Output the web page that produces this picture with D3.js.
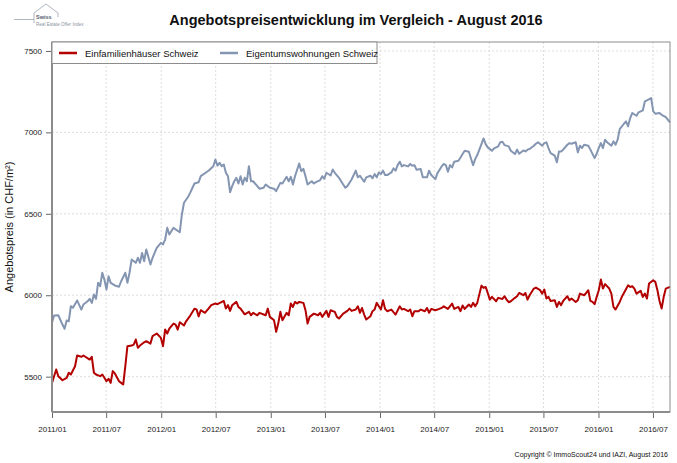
<!DOCTYPE html>
<html>
<head>
<meta charset="utf-8">
<title>Angebotspreisentwicklung</title>
<script src="https://cdn.jsdelivr.net/npm/d3@7/dist/d3.min.js"></script>
<style>
  body { margin: 0; background: #fff; }
  svg { display: block; font-family: "Liberation Sans", Arial, sans-serif; }
</style>
</head>
<body>
<div id="chart"></div>
<script>
// weeks since 2011-01-01, values in CHF/m2
var houseWeeks = [0,2,3,5,7,8,9,11,12,14,15,18,19,20,21,23,24,25,26,27,28,29,30,32,33,34,35,36,38,39,40,41,42,44,45,47,48,50,52,53,54,55,56,58,59,60,61,63,64,66,68,69,70,71,73,75,
  76,78,79,82,83,84,85,86,88,89,90,92,94,95,96,98,99,102,103,104,106,107,108,109,110,112,113,114,115,116,117,118,120,121,122,123,125,127,128,129,131,132,133,135,136,137,139,141,142,143,
  145,146,147,148,149,150,152,153,154,155,156,157,158,159,160,162,163,164,166,167,168,170,171,172,173,175,176,178,179,180,181,183,184,186,187,189,191,192,194,195,196,197,199,200,201,202,203,
  205,206,207,208,209,210,212,213,215,216,217,218,219,221,222,223,225,226,227,228,230,231,233,234,235,236,237,238,240,241,242,243,244,246,247,248,250,251,252,254,255,256,257,258,259,260,
  261,262,263,264,266,267,268,269,271,272,273,275,276,277,278,279,281,282,283,284,285,287,288,289,290,291,292,293,295];
var houseValues = [5461,5544,5503,5478,5493,5524,5513,5564,5630,5622,5630,5605,5622,5524,5513,5503,5513,5493,5472,5487,5462,5534,5520,5472,5462,5452,5564,5687,5691,5697,5728,5677,5691,5711,5718,5703,5749,5765,5738,5687,5789,5765,5795,5826,5820,5789,5834,5814,5840,5875,5917,5913,5870,5908,5892,5923,
  5939,5949,5945,5965,5918,5939,5904,5939,5959,5928,5918,5883,5898,5877,5892,5877,5892,5877,5918,5867,5846,5775,5826,5898,5846,5892,5877,5949,5928,5959,5949,5959,5953,5908,5826,5867,5887,5877,5892,5867,5904,5867,5908,5898,5867,5857,5887,5904,5918,5904,
  5912,5932,5892,5922,5881,5851,5871,5902,5912,5953,5932,5912,5969,5916,5902,5912,5896,5881,5932,5912,5916,5902,5912,5871,5902,5902,5912,5902,5922,5892,5916,5908,5912,5922,5932,5916,5949,5916,5928,5902,5937,5916,5943,5928,5953,5932,5953,
  6059,6045,6051,6014,5973,5990,5963,5984,5977,5994,5973,5957,5963,5984,5994,6014,6000,6014,5973,6000,6041,6047,6031,6010,6035,5980,5990,5965,5969,5928,5959,5939,5965,5994,5969,5980,5959,5969,6010,6000,6014,6031,5965,5959,5945,5990,
  6031,6096,6041,6068,6041,6010,5928,5912,5959,5990,6014,6061,6051,6055,6041,6010,6027,5990,6010,5980,6072,6092,6082,6031,5965,5918,5990,6041,6051];

var flatWeeks = [0,1,3,5,6,7,8,9,10,12,14,15,17,18,19,20,21,22,23,24,25,26,27,28,30,32,33,35,36,37,38,40,41,42,43,44,45,47,48,50,52,53,54,55,56,58,59,61,62,63,65,66,68,70,71,74,75,
  77,78,79,80,81,82,83,84,85,86,87,88,89,90,91,92,93,94,95,96,98,99,101,102,104,106,107,109,110,112,113,114,115,116,118,119,120,121,122,124,125,126,128,129,130,131,133,134,135,137,138,140,141,143,
  145,146,147,149,150,152,153,154,155,156,157,158,159,160,162,163,164,165,166,167,168,170,171,172,173,174,176,177,179,180,181,183,184,186,187,188,189,190,191,192,194,195,196,197,199,200,201,202,203,
  205,206,207,208,210,211,213,214,215,216,218,219,221,222,223,225,226,227,228,230,231,232,234,235,236,237,238,240,241,242,243,244,246,247,248,250,251,252,253,254,256,257,259,260,
  261,262,263,264,265,267,268,269,270,271,273,274,275,276,277,279,280,281,282,283,284,286,287,288,290,291,293,295];
var flatValues = [5831,5875,5877,5820,5794,5845,5840,5933,5923,5968,5912,5943,5963,5978,5953,6004,5978,6076,6056,6138,6097,6035,6117,6076,6060,6052,6086,6138,6076,6138,6219,6199,6230,6199,6260,6209,6281,6189,6230,6291,6322,6312,6342,6414,6373,6414,6404,6387,6496,6568,6605,6630,6686,6694,6731,6758,6768,
  6792,6833,6796,6813,6792,6803,6752,6731,6633,6670,6700,6721,6686,6731,6680,6721,6700,6792,6700,6700,6670,6654,6660,6680,6660,6654,6639,6690,6686,6727,6700,6727,6680,6731,6809,6762,6776,6731,6680,6700,6686,6694,6707,6731,6715,6752,6735,6772,6752,6721,6700,6660,6670,6711,
  6765,6724,6734,6697,6724,6734,6718,6744,6724,6754,6744,6765,6738,6738,6754,6779,6765,6799,6820,6791,6799,6791,6806,6795,6799,6771,6775,6724,6724,6765,6738,6713,6750,6791,6806,6799,6758,6799,6785,6820,6826,6846,6867,6887,6881,6840,6799,6836,6861,
  6928,6963,6928,6908,6887,6902,6914,6939,6943,6922,6914,6887,6867,6894,6869,6889,6883,6894,6898,6918,6930,6939,6918,6934,6939,6904,6873,6857,6816,6883,6883,6894,6924,6934,6930,6939,6877,6918,6904,6924,6918,6894,6842,6869,
  6904,6934,6904,6955,6939,6918,6945,6924,6955,7020,7053,7068,7037,7088,7119,7102,7123,7129,7135,7190,7197,7211,7129,7115,7119,7108,7094,7061];

var seriesNames = ["Einfamilienhäuser Schweiz", "Eigentumswohnungen Schweiz"];
var seriesColors = ["#B30000", "#8495B2"];
var yTicks = [5500, 6000, 6500, 7000, 7500];
var xTickLabels = ["2011/01","2011/07","2012/01","2012/07","2013/01","2013/07","2014/01","2014/07","2015/01","2015/07","2016/01","2016/07"];

var W = 677, H = 463;
var margin = {left: 52, right: 7, top: 42, bottom: 51};
var start = new Date(2011, 0, 1);
var parseTick = d3.timeParse("%Y/%m");

var svg = d3.select("#chart").append("svg").attr("width", W).attr("height", H);

var x = d3.scaleTime()
  .domain([start, d3.timeWeek.offset(start, 295)])
  .range([margin.left, W - margin.right]);
var y = d3.scaleLinear()
  .domain([5283, 7555])
  .range([H - margin.bottom, margin.top]);

var xTicks = xTickLabels.map(function(s) { return parseTick(s); });

// grid
var grid = svg.append("g").attr("stroke", "#d4d4d4").attr("stroke-dasharray", "2,2").attr("stroke-width", 0.8);
grid.selectAll(".gx").data(xTicks).enter().append("line")
  .attr("x1", function(d) { return x(d); }).attr("x2", function(d) { return x(d); })
  .attr("y1", margin.top).attr("y2", H - margin.bottom);
grid.selectAll(".gy").data(yTicks).enter().append("line")
  .attr("x1", margin.left).attr("x2", W - margin.right)
  .attr("y1", function(d) { return y(d); }).attr("y2", function(d) { return y(d); });

// lines
function toPoints(weeks, values) {
  return weeks.map(function(w, i) { return {date: d3.timeWeek.offset(start, w), value: values[i]}; });
}
var line = d3.line().x(function(d) { return x(d.date); }).y(function(d) { return y(d.value); });

svg.append("path").datum(toPoints(flatWeeks, flatValues))
  .attr("d", line).attr("fill", "none").attr("stroke", seriesColors[1]).attr("stroke-width", 2).attr("stroke-linejoin", "round");
svg.append("path").datum(toPoints(houseWeeks, houseValues))
  .attr("d", line).attr("fill", "none").attr("stroke", seriesColors[0]).attr("stroke-width", 2).attr("stroke-linejoin", "round");

// frame
svg.append("rect")
  .attr("x", margin.left).attr("y", margin.top)
  .attr("width", W - margin.right - margin.left).attr("height", H - margin.bottom - margin.top)
  .attr("fill", "none").attr("stroke", "#8c8c8c").attr("stroke-width", 1);
svg.append("line").attr("x1", margin.left).attr("x2", margin.left)
  .attr("y1", margin.top).attr("y2", H - margin.bottom).attr("stroke", "#8c8c8c").attr("stroke-width", 2);
svg.append("line").attr("x1", margin.left).attr("x2", W - margin.right)
  .attr("y1", H - margin.bottom).attr("y2", H - margin.bottom).attr("stroke", "#8c8c8c").attr("stroke-width", 2);

// axes
var yAxis = d3.axisLeft(y).tickValues(yTicks).tickSize(5).tickPadding(4).tickFormat(d3.format("d"));
var gy = svg.append("g").attr("transform", "translate(" + (margin.left - 1) + ",0)").call(yAxis);
var xAxis = d3.axisBottom(x).tickValues(xTicks).tickSize(5).tickPadding(8)
  .tickFormat(d3.timeFormat("%Y/%m"));
var gx = svg.append("g").attr("transform", "translate(0," + (H - margin.bottom + 1) + ")").call(xAxis);
[gx, gy].forEach(function(g) {
  g.select(".domain").remove();
  g.selectAll(".tick line").attr("stroke", "#666");
  g.selectAll(".tick text").attr("fill", "#222").attr("font-size", 8);
});

// y label
svg.append("text")
  .attr("transform", "translate(13," + ((margin.top + H - margin.bottom) / 2) + ") rotate(-90)")
  .attr("text-anchor", "middle").attr("font-size", 11).attr("fill", "#111")
  .text("Angebotspreis (in CHF/m²)");

// title
svg.append("text").attr("x", 356).attr("y", 25).attr("text-anchor", "middle")
  .attr("font-size", 14.5).attr("font-weight", "bold").attr("fill", "#111")
  .text("Angebotspreisentwicklung im Vergleich - August 2016");

// legend
var lg = svg.append("g");
lg.append("rect").attr("x", margin.left).attr("y", margin.top).attr("width", 325).attr("height", 21.5)
  .attr("fill", "#fff").attr("stroke", "#8c8c8c").attr("stroke-width", 1);
var legendX = [59, 220];
seriesNames.forEach(function(name, i) {
  lg.append("line").attr("x1", legendX[i]).attr("x2", legendX[i] + 18)
    .attr("y1", margin.top + 11).attr("y2", margin.top + 11)
    .attr("stroke", seriesColors[i]).attr("stroke-width", 2.5);
  lg.append("text").attr("x", legendX[i] + 26).attr("y", margin.top + 14.5)
    .attr("font-size", 9.5).attr("fill", "#111").text(name);
});

// copyright
svg.append("text").attr("x", 668).attr("y", 457).attr("text-anchor", "end")
  .attr("font-size", 7).attr("fill", "#111")
  .text("Copyright © ImmoScout24 und IAZI, August 2016");

// logo
var logo = svg.append("g").attr("fill", "none").attr("stroke", "#9aa3ad").attr("stroke-width", 0.8);
logo.append("path").attr("d", "M14,19.5 L34,19.5 L34,13 L46,4 L58,13 L58,17");
logo.append("path").attr("d", "M34,19.5 L34,23");
svg.append("text").attr("x", 36).attr("y", 19).attr("font-size", 5.5).attr("font-weight", "bold")
  .attr("fill", "#556070").text("Swiss");
svg.append("text").attr("x", 36).attr("y", 26).attr("font-size", 4.6)
  .attr("fill", "#8a93a0").text("Real Estate Offer Index");
</script>
</body>
</html>
